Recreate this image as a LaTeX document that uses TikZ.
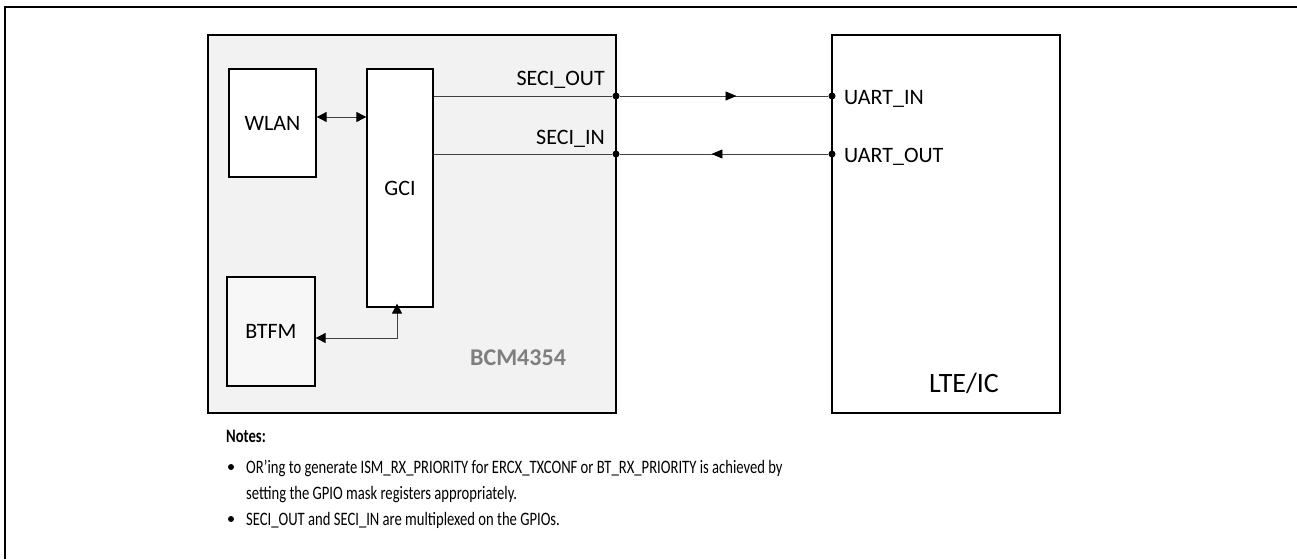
\documentclass[tikz,border=0pt]{standalone}
\usepackage{fontspec}
\setmainfont{Carlito}
\usetikzlibrary{arrows.meta,decorations.markings}
\definecolor{chipgray}{HTML}{F2F2F2}
\definecolor{lblgray}{HTML}{7F7F7F}
\newcommand{\notesq}[1]{\scalebox{0.77}[1]{#1}}
\tikzset{
  blk/.style={draw=black, line width=1.3pt, inner sep=0pt},
  wire/.style={draw=black!75, line width=0.9pt},
  dtip/.style={{Triangle[length=10pt,width=10pt,color=black]}-{Triangle[length=10pt,width=10pt,color=black]}},
  dot/.style={circle, fill=black, inner sep=0pt, minimum size=7pt},
  midarrow/.style={postaction={decorate}, decoration={markings, mark=at position #1 with {\arrow{Triangle[length=11pt,width=9pt,color=black]}}}},
  lbl/.style={font=\fontsize{22}{26}\selectfont, inner sep=0pt},
  notefont/.style={font=\fontsize{19}{23}\selectfont, inner sep=0pt}
}
\begin{document}
\begin{tikzpicture}[x=1pt,y=-1pt]
\useasboundingbox (0,0) rectangle (1297,559);
% outer frame (left and top)
\draw[line width=2pt] (5,559) -- (5,7) -- (1297,7);
% chip
\node[blk, fill=chipgray, minimum width=408pt, minimum height=378pt] (chip) at (412,224) {};
\node[blk, fill=white, minimum width=87pt, minimum height=108pt, lbl] (wlan) at (272.5,123) {WLAN};
\node[blk, fill=white, minimum width=66pt, minimum height=238pt, lbl] (gci) at (400,188) {GCI};
\node[blk, fill=black!3, minimum width=88pt, minimum height=109pt, lbl] (btfm) at (271,331.5) {BTFM};
\node[font=\bfseries\fontsize{24}{28}\selectfont, text=lblgray, inner sep=0pt] (bcm) at (518,358) {BCM4354};
% LTE
\node[blk, fill=white, minimum width=228pt, minimum height=378pt] (lte) at (946,224) {};
\node[font=\fontsize{28}{32}\selectfont, inner sep=0pt] (ltel) at (964,383) {LTE/IC};
% dots
\node[dot] (so) at (616,96) {};
\node[dot] (si) at (616,154) {};
\node[dot] (ui) at (832,96) {};
\node[dot] (uo) at (832,154) {};
% labels
\node[lbl, anchor=base east] (solbl) at (605,86) {SECI\_OUT};
\node[lbl, anchor=base east] (silbl) at (605,144) {SECI\_IN};
\node[lbl, anchor=base west] (uilbl) at (844,105) {UART\_IN};
\node[lbl, anchor=base west] (uolbl) at (844,162) {UART\_OUT};
% wires
\draw[wire] (gci.east |- so) -- (so);
\draw[wire] (gci.east |- si) -- (si);
\draw[wire, midarrow=0.56] (so) -- (ui);
\draw[wire, midarrow=0.56] (uo) -- (si);
\draw[wire, dtip] (wlan.east |- 0,117) -- (gci.west |- 0,117);
\coordinate (bend) at (397,338);
\draw[wire, dtip] (btfm.east |- bend) -- (bend) -- ([yshift=4pt]gci.south -| bend);
% notes
\node[notefont, anchor=base west] (notes) at (226,442) {\notesq{\bfseries Notes:}};
\node[circle, fill=black, inner sep=0pt, minimum size=6pt] (b1) at (231,467) {};
\node[notefont, anchor=base west] (n1) at (246,473) {\notesq{OR’ing to generate ISM\_RX\_PRIORITY for ERCX\_TXCONF or BT\_RX\_PRIORITY is achieved by}};
\node[notefont, anchor=base west] (n1b) at (246,499) {\notesq{setting the GPIO mask registers appropriately.}};
\node[circle, fill=black, inner sep=0pt, minimum size=6pt] (b2) at (231,519) {};
\node[notefont, anchor=base west] (n2) at (246,525) {\notesq{SECI\_OUT and SECI\_IN are multiplexed on the GPIOs.}};
\end{tikzpicture}
\end{document}
